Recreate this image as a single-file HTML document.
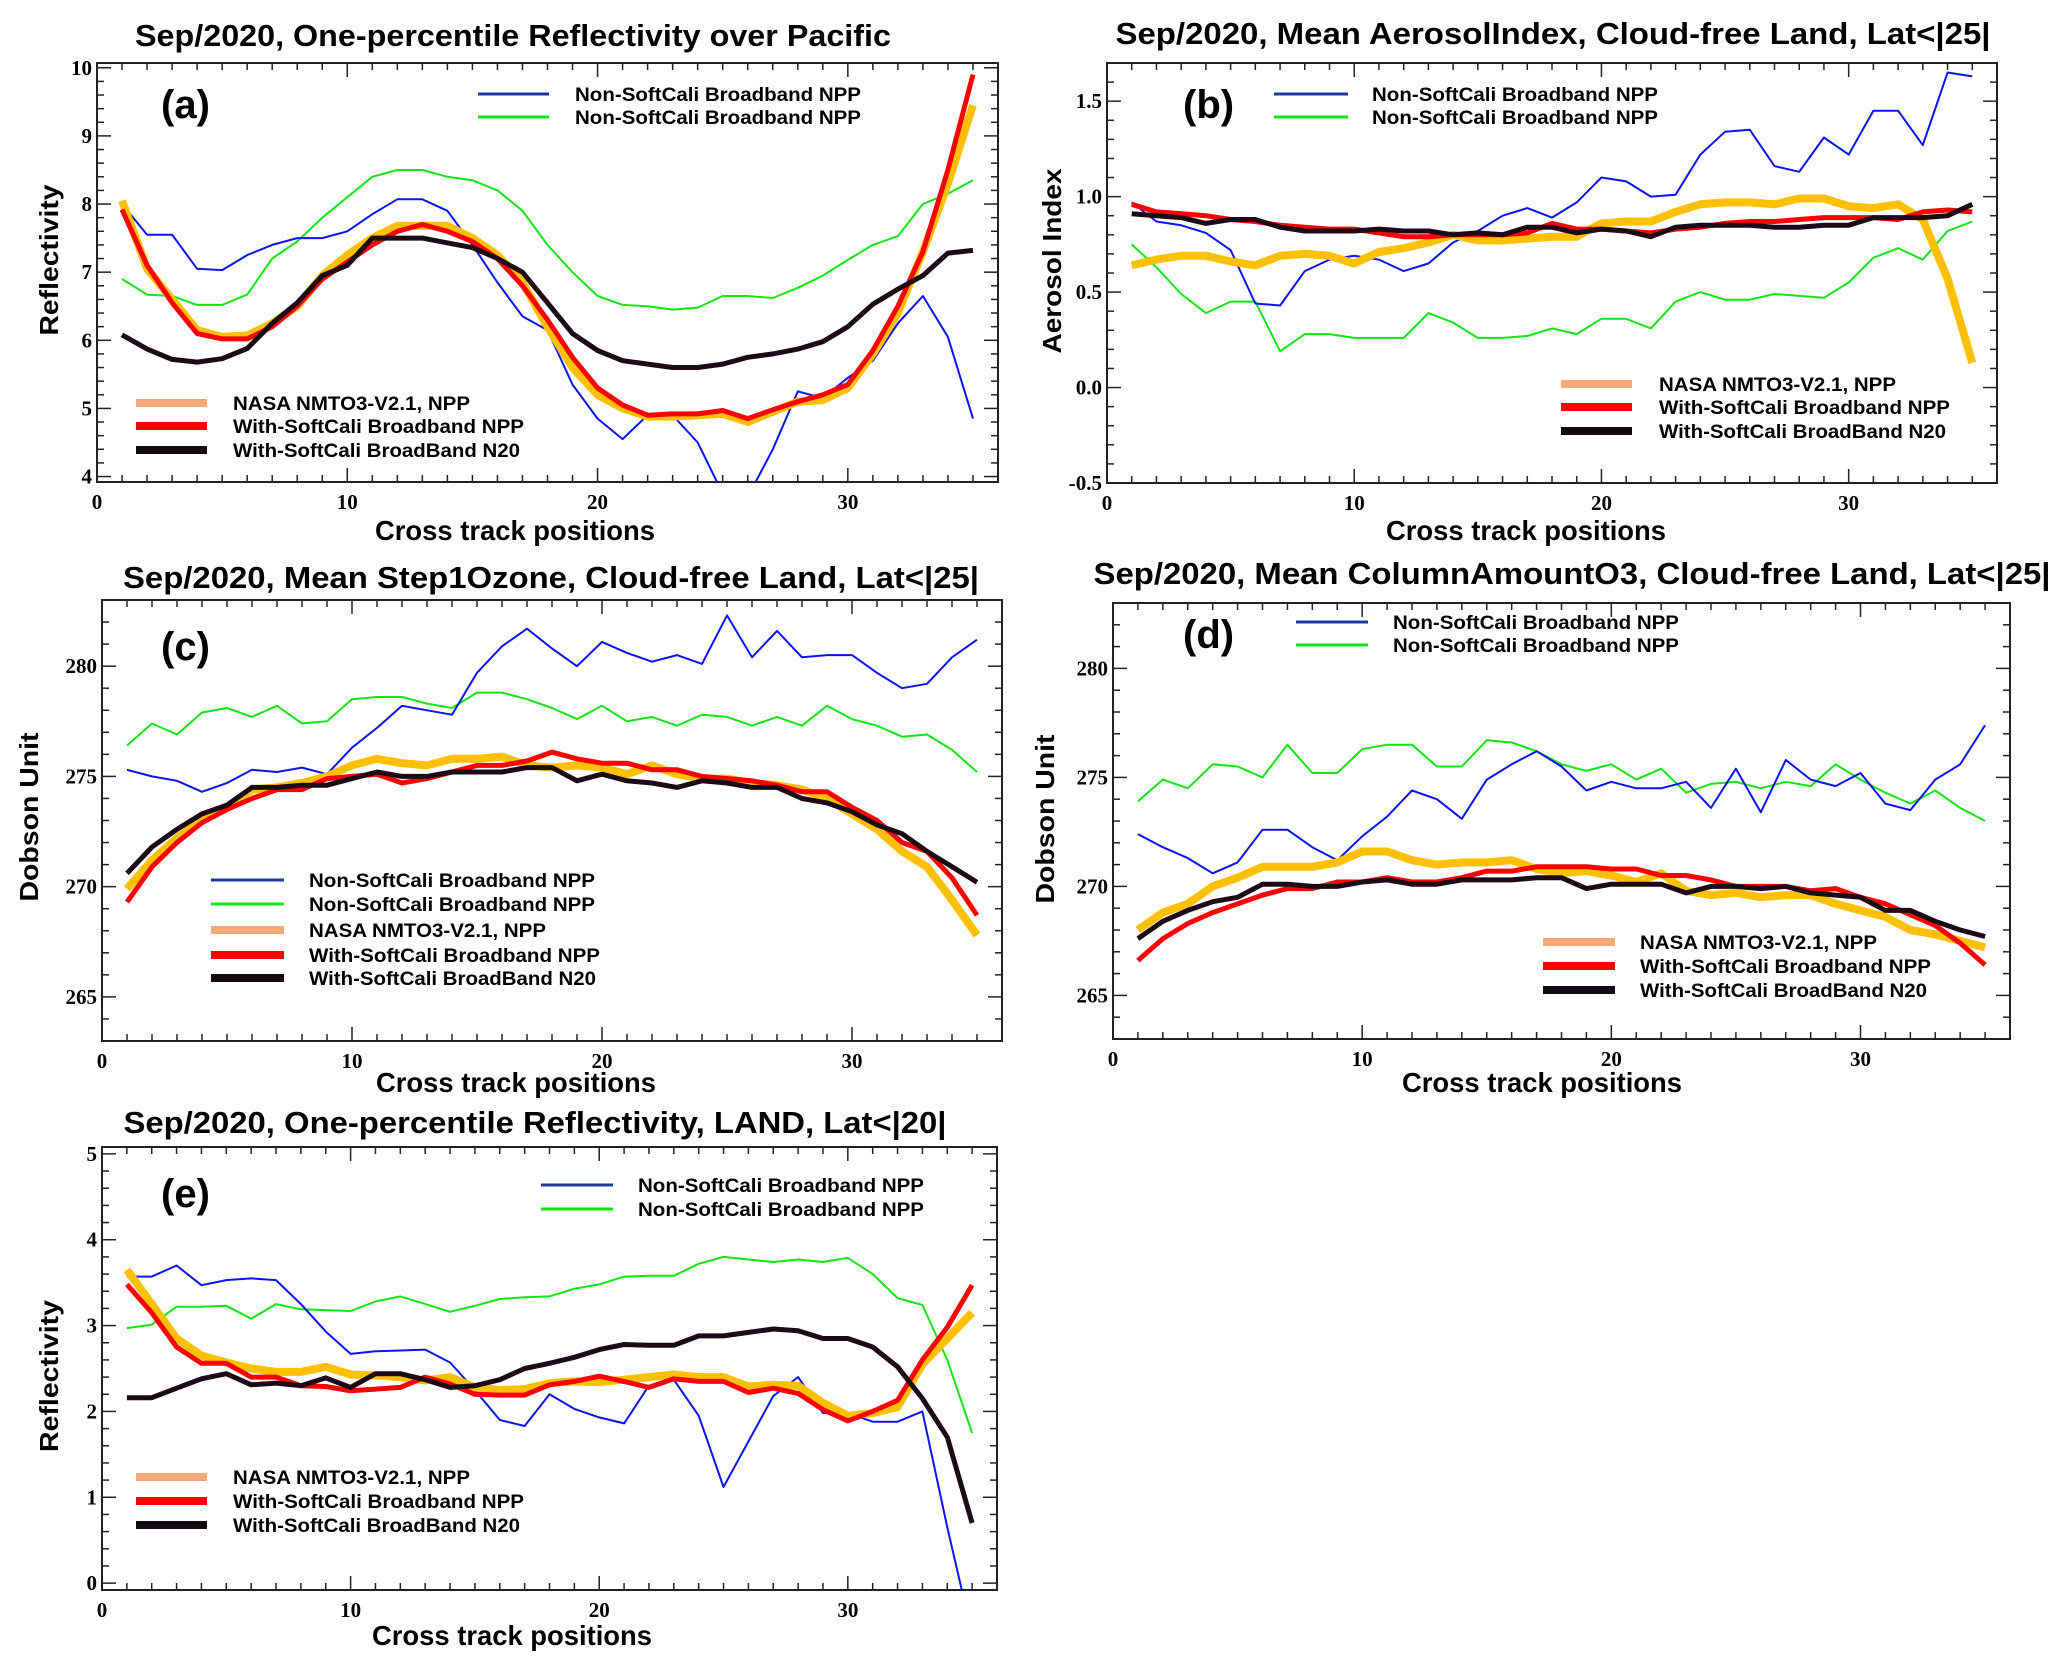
<!DOCTYPE html>
<html><head><meta charset="utf-8"><style>
html,body{margin:0;padding:0;background:#fff;}
svg{display:block;}
</style></head><body>
<svg id="fig" xmlns="http://www.w3.org/2000/svg" width="2067" height="1667" viewBox="0 0 2067 1667">
<rect x="0" y="0" width="2067" height="1667" fill="#fff"/>
</svg>
<script>
const xPos=[1,2,3,4,5,6,7,8,9,10,11,12,13,14,15,16,17,18,19,20,21,22,23,24,25,26,27,28,29,30,31,32,33,34,35];

const aBlue=[8.0,7.55,7.55,7.05,7.03,7.25,7.4,7.5,7.5,7.6,7.85,8.07,8.07,7.9,7.4,6.85,6.35,6.15,5.35,4.85,4.55,4.9,4.9,4.5,3.75,3.7,4.4,5.25,5.15,5.45,5.7,6.25,6.65,6.05,4.85];
const aGreen=[6.9,6.67,6.65,6.52,6.52,6.67,7.2,7.45,7.8,8.1,8.4,8.5,8.5,8.4,8.35,8.2,7.9,7.4,7.0,6.65,6.52,6.5,6.45,6.48,6.65,6.65,6.62,6.77,6.95,7.18,7.4,7.53,8.0,8.15,8.35];
const aNasa=[8.05,7.05,6.6,6.15,6.05,6.07,6.25,6.5,6.95,7.25,7.5,7.68,7.68,7.68,7.5,7.25,6.85,6.2,5.6,5.2,5.0,4.88,4.88,4.9,4.92,4.8,4.95,5.1,5.12,5.3,5.8,6.4,7.3,8.3,9.45];
const aRed=[7.92,7.1,6.55,6.1,6.02,6.02,6.2,6.5,6.9,7.15,7.4,7.6,7.7,7.6,7.45,7.2,6.8,6.3,5.75,5.3,5.05,4.9,4.92,4.92,4.97,4.85,4.98,5.1,5.2,5.35,5.85,6.5,7.3,8.5,9.9];
const aBlack=[6.08,5.87,5.72,5.68,5.73,5.88,6.25,6.55,6.95,7.1,7.5,7.5,7.5,7.43,7.36,7.2,7.0,6.55,6.1,5.85,5.7,5.65,5.6,5.6,5.65,5.75,5.8,5.87,5.98,6.2,6.53,6.75,6.95,7.28,7.32];

const bBlue=[0.97,0.87,0.85,0.81,0.72,0.44,0.43,0.61,0.67,0.69,0.67,0.61,0.65,0.76,0.82,0.90,0.94,0.89,0.97,1.10,1.08,1.00,1.01,1.22,1.34,1.35,1.16,1.13,1.31,1.22,1.45,1.45,1.27,1.65,1.63];
const bGreen=[0.75,0.63,0.49,0.39,0.45,0.45,0.19,0.28,0.28,0.26,0.26,0.26,0.39,0.34,0.26,0.26,0.27,0.31,0.28,0.36,0.36,0.31,0.45,0.50,0.46,0.46,0.49,0.48,0.47,0.55,0.68,0.73,0.67,0.82,0.87];
const bNasa=[0.64,0.67,0.69,0.69,0.66,0.64,0.69,0.70,0.69,0.65,0.71,0.73,0.76,0.80,0.77,0.77,0.78,0.79,0.79,0.86,0.87,0.87,0.92,0.96,0.97,0.97,0.96,0.99,0.99,0.95,0.94,0.96,0.88,0.57,0.13];
const bRed=[0.96,0.92,0.91,0.90,0.88,0.87,0.85,0.84,0.83,0.83,0.81,0.79,0.79,0.80,0.80,0.80,0.81,0.86,0.83,0.83,0.82,0.81,0.83,0.84,0.86,0.87,0.87,0.88,0.89,0.89,0.89,0.88,0.92,0.93,0.92];
const bBlack=[0.91,0.90,0.89,0.86,0.88,0.88,0.84,0.82,0.82,0.82,0.83,0.82,0.82,0.80,0.81,0.80,0.84,0.84,0.81,0.83,0.82,0.79,0.84,0.85,0.85,0.85,0.84,0.84,0.85,0.85,0.89,0.89,0.89,0.90,0.96];

const cBlue=[275.3,275.0,274.8,274.3,274.7,275.3,275.2,275.4,275.1,276.3,277.2,278.2,278.0,277.8,279.7,280.9,281.7,280.8,280.0,281.1,280.6,280.2,280.5,280.1,282.3,280.4,281.6,280.4,280.5,280.5,279.7,279.0,279.2,280.4,281.2];
const cGreen=[276.4,277.4,276.9,277.9,278.1,277.7,278.2,277.4,277.5,278.5,278.6,278.6,278.3,278.1,278.8,278.8,278.5,278.1,277.6,278.2,277.5,277.7,277.3,277.8,277.7,277.3,277.7,277.3,278.2,277.6,277.3,276.8,276.9,276.2,275.2];
const cNasa=[269.9,271.2,272.2,273.1,273.6,274.4,274.5,274.7,275.0,275.5,275.8,275.6,275.5,275.8,275.8,275.9,275.5,275.4,275.5,275.4,275.1,275.5,275.1,274.9,274.9,274.7,274.6,274.4,274.0,273.3,272.6,271.6,270.9,269.4,267.8];
const cRed=[269.3,270.9,272.0,272.9,273.5,274.0,274.4,274.4,274.9,275.0,275.1,274.7,274.9,275.2,275.5,275.5,275.7,276.1,275.8,275.6,275.6,275.3,275.3,275.0,274.9,274.8,274.6,274.3,274.3,273.6,273.0,272.0,271.6,270.4,268.7];
const cBlack=[270.6,271.8,272.6,273.3,273.7,274.5,274.5,274.6,274.6,274.9,275.2,275.0,275.0,275.2,275.2,275.2,275.4,275.4,274.8,275.1,274.8,274.7,274.5,274.8,274.7,274.5,274.5,274.0,273.8,273.4,272.8,272.4,271.6,270.9,270.2];

const dBlue=[272.4,271.8,271.3,270.6,271.1,272.6,272.6,271.8,271.2,272.3,273.2,274.4,274.0,273.1,274.9,275.6,276.2,275.5,274.4,274.8,274.5,274.5,274.8,273.6,275.4,273.4,275.8,274.9,274.6,275.2,273.8,273.5,274.9,275.6,277.4];
const dGreen=[273.9,274.9,274.5,275.6,275.5,275.0,276.5,275.2,275.2,276.3,276.5,276.5,275.5,275.5,276.7,276.6,276.2,275.6,275.3,275.6,274.9,275.4,274.3,274.7,274.8,274.5,274.8,274.6,275.6,274.9,274.3,273.8,274.4,273.6,273.0];
const dNasa=[268.0,268.8,269.2,270.0,270.4,270.9,270.9,270.9,271.1,271.6,271.6,271.2,271.0,271.1,271.1,271.2,270.8,270.6,270.7,270.5,270.2,270.6,269.8,269.6,269.7,269.5,269.6,269.6,269.2,268.9,268.6,268.0,267.8,267.5,267.2];
const dRed=[266.6,267.6,268.3,268.8,269.2,269.6,269.9,269.9,270.2,270.2,270.4,270.2,270.2,270.4,270.7,270.7,270.9,270.9,270.9,270.8,270.8,270.5,270.5,270.3,270.0,270.0,270.0,269.8,269.9,269.5,269.2,268.7,268.2,267.4,266.4];
const dBlack=[267.6,268.4,268.9,269.3,269.5,270.1,270.1,270.0,270.0,270.2,270.3,270.1,270.1,270.3,270.3,270.3,270.4,270.4,269.9,270.1,270.1,270.1,269.7,270.0,270.0,269.9,270.0,269.7,269.6,269.5,268.9,268.9,268.4,268.0,267.7];

const eBlue=[3.57,3.57,3.7,3.47,3.53,3.55,3.53,3.25,2.93,2.67,2.7,2.71,2.72,2.57,2.25,1.9,1.83,2.2,2.03,1.93,1.86,2.3,2.37,1.95,1.12,1.65,2.18,2.4,1.98,1.98,1.88,1.88,2.0,0.65,-0.6];
const eGreen=[2.97,3.01,3.22,3.22,3.23,3.08,3.25,3.19,3.18,3.17,3.28,3.34,3.25,3.16,3.23,3.31,3.33,3.34,3.43,3.48,3.57,3.58,3.58,3.72,3.8,3.77,3.74,3.77,3.74,3.79,3.6,3.32,3.24,2.6,1.75];
const eNasa=[3.65,3.25,2.85,2.65,2.57,2.5,2.46,2.46,2.52,2.43,2.42,2.4,2.36,2.4,2.28,2.25,2.26,2.33,2.35,2.34,2.37,2.4,2.43,2.4,2.4,2.29,2.31,2.3,2.1,1.95,1.98,2.05,2.55,2.85,3.15];
const eRed=[3.48,3.15,2.75,2.56,2.56,2.4,2.4,2.3,2.29,2.24,2.26,2.28,2.4,2.32,2.2,2.19,2.19,2.31,2.35,2.41,2.35,2.28,2.38,2.35,2.35,2.22,2.27,2.21,2.02,1.89,2.0,2.13,2.6,2.98,3.47];
const eBlack=[2.16,2.16,2.27,2.38,2.44,2.31,2.33,2.3,2.39,2.28,2.44,2.44,2.37,2.28,2.3,2.37,2.5,2.56,2.63,2.72,2.78,2.77,2.77,2.88,2.88,2.92,2.96,2.94,2.85,2.85,2.75,2.52,2.15,1.7,0.7];

const xTicks=[0,10,20,30];
const aYTicks=[4,5,6,7,8,9,10];
const bYTicks=[-0.5,0.0,0.5,1.0,1.5];
const bYTickLabels=["-0.5","0.0","0.5","1.0","1.5"];
const cYTicks=[265,270,275,280];
const eYTicks=[0,1,2,3,4,5];

const NS="http://www.w3.org/2000/svg";
const svg=document.getElementById('fig');
function mk(tag,attrs,parent){const e=document.createElementNS(NS,tag);for(const k in attrs)e.setAttribute(k,attrs[k]);(parent||svg).appendChild(e);return e;}

const COL={blue:'#0a14f0',green:'#12e612',nasa:'#ffc000',red:'#ff0000',black:'#1c0a16'};
const WID={blue:2,green:2,nasa:8,red:5,black:5};

const panels=[
 {id:'a',L:97,R:998,T:63,B:482,ymin:3.92,ymax:10.07,xmax:36,majors:aYTicks,labels:aYTicks.map(String),minor:0.2,
  title:'Sep/2020, One-percentile Reflectivity over Pacific',tx:513,ty:46,tlen:756,
  ylab:'Reflectivity',ylx:58,yly:260,yllen:151,xlx:515,xly:540,
  tag:'(a)',tagx:161,tagy:118,
  series:{blue:aBlue,green:aGreen,nasa:aNasa,red:aRed,black:aBlack},
  leg1:{lx1:478,lx2:549,tx:575,ys:[94,117]},leg2:{lx1:136,lx2:207,tx:233,ys:[403,426,450],lens:[237,291,287]}},
 {id:'b',L:1107,R:1997,T:63,B:483,ymin:-0.5,ymax:1.70,xmax:36,majors:bYTicks,labels:bYTickLabels,minor:0.1,
  title:'Sep/2020, Mean AerosolIndex, Cloud-free Land, Lat<|25|',tx:1553,ty:44,tlen:875,
  ylab:'Aerosol Index',ylx:1061,yly:261,yllen:185,xlx:1526,xly:540,
  tag:'(b)',tagx:1183,tagy:118,
  series:{blue:bBlue,green:bGreen,nasa:bNasa,red:bRed,black:bBlack},
  leg1:{lx1:1274,lx2:1348,tx:1372,ys:[94,117]},leg2:{lx1:1561,lx2:1632,tx:1659,ys:[384,407,431],lens:[237,291,287]}},
 {id:'c',L:102,R:1002,T:600,B:1041,ymin:263,ymax:283,xmax:36,majors:cYTicks,labels:cYTicks.map(String),minor:1,
  title:'Sep/2020, Mean Step1Ozone, Cloud-free Land, Lat<|25|',tx:551,ty:588,tlen:856,
  ylab:'Dobson Unit',ylx:38,yly:817,yllen:169,xlx:516,xly:1092,
  tag:'(c)',tagx:161,tagy:660,
  series:{blue:cBlue,green:cGreen,nasa:cNasa,red:cRed,black:cBlack},
  legAll:{lx1:211,lx2:284,tx:309,ys:[880,904,930,955,978],lens:[286,286,237,291,287]}},
 {id:'d',L:1113,R:2010,T:603,B:1039,ymin:263,ymax:283,xmax:36,majors:cYTicks,labels:cYTicks.map(String),minor:1,
  title:'Sep/2020, Mean ColumnAmountO3, Cloud-free Land, Lat<|25|',tx:1572,ty:584,tlen:957,
  ylab:'Dobson Unit',ylx:1054,yly:819,yllen:169,xlx:1542,xly:1092,
  tag:'(d)',tagx:1183,tagy:648,
  series:{blue:dBlue,green:dGreen,nasa:dNasa,red:dRed,black:dBlack},
  leg1:{lx1:1296,lx2:1368,tx:1393,ys:[622,645]},leg2:{lx1:1543,lx2:1615,tx:1640,ys:[942,966,990],lens:[237,291,287]}},
 {id:'e',L:102,R:997,T:1147,B:1590,ymin:-0.08,ymax:5.08,xmax:36,majors:eYTicks,labels:eYTicks.map(String),minor:0.2,
  title:'Sep/2020, One-percentile Reflectivity, LAND, Lat<|20|',tx:535,ty:1133,tlen:823,
  ylab:'Reflectivity',ylx:58,yly:1376,yllen:152,xlx:512,xly:1645,
  tag:'(e)',tagx:161,tagy:1207,
  series:{blue:eBlue,green:eGreen,nasa:eNasa,red:eRed,black:eBlack},
  leg1:{lx1:541,lx2:613,tx:638,ys:[1185,1209]},leg2:{lx1:136,lx2:207,tx:233,ys:[1477,1501,1525],lens:[237,291,287]}}
];

const upperNames=['Non-SoftCali Broadband NPP','Non-SoftCali Broadband NPP'];
const lowerNames=['NASA NMTO3-V2.1, NPP','With-SoftCali Broadband NPP','With-SoftCali BroadBand N20'];
const legCols={blue:'#1c3a9c',green:'#12e612',nasa:'#f6a878',red:'#ff0000',black:'#140a12'};
const legW={blue:3,green:3,nasa:8,red:8,black:8};

panels.forEach(p=>{
  const g=mk('g',{});
  
  
  const X=v=>p.L+(v-0)/(p.xmax-0)*(p.R-p.L);
  const Y=v=>p.B-(v-p.ymin)/(p.ymax-p.ymin)*(p.B-p.T);
  const cp=mk('clipPath',{id:'clip-'+p.id},g);
  mk('rect',{x:p.L,y:p.T,width:p.R-p.L,height:p.B-p.T},cp);
  const t=mk('text',{x:p.tx,y:p.ty,'text-anchor':'middle','font-family':'"Liberation Sans",sans-serif','font-weight':'bold','font-size':31,textLength:p.tlen,lengthAdjust:'spacingAndGlyphs',fill:'#000'},g);
  t.textContent=p.title;
  
  
  const tk=mk('g',{stroke:'#222','stroke-width':1.5},g);
  
  
  for(let v=1;v<p.xmax;v++){
    const len=(v%10===0)?14:7;
    mk('line',{x1:X(v),x2:X(v),y1:p.B,y2:p.B-len},tk);
    mk('line',{x1:X(v),x2:X(v),y1:p.T,y2:p.T+len},tk);
  }
  const nMin=Math.round((p.ymax-p.ymin)/p.minor)+2;
  const start=Math.ceil(p.ymin/p.minor)*p.minor;
  for(let i=0;i<nMin;i++){
    const v=start+i*p.minor; if(v>p.ymax) break;
    const isMaj=p.majors.some(m=>Math.abs(m-v)<1e-6);
    const len=isMaj?14:7;
    mk('line',{x1:p.L,x2:p.L+len,y1:Y(v),y2:Y(v)},tk);
    mk('line',{x1:p.R,x2:p.R-len,y1:Y(v),y2:Y(v)},tk);
  }
  const fr=mk('rect',{x:p.L,y:p.T,width:p.R-p.L,height:p.B-p.T,fill:'none',stroke:'#222','stroke-width':2},g);
  
  
  xTicks.forEach(v=>{
    const tl=mk('text',{x:X(v),y:p.B+27,'text-anchor':'middle','font-family':'"Liberation Serif",serif','font-weight':'bold','font-size':21,fill:'#000'},g);
    tl.textContent=String(v);
    
    
  });
  p.majors.forEach((v,i)=>{
    const tl=mk('text',{x:p.L-5,y:Y(v)+7,'text-anchor':'end','font-family':'"Liberation Serif",serif','font-weight':'bold','font-size':21,fill:'#000'},g);
    tl.textContent=p.labels[i];
    
    
  });
  const xl=mk('text',{x:p.xlx,y:p.xly,'text-anchor':'middle','font-family':'"Liberation Sans",sans-serif','font-weight':'bold','font-size':28,textLength:280,lengthAdjust:'spacingAndGlyphs',fill:'#000'},g);
  xl.textContent='Cross track positions';
  
  
  const yl=mk('text',{x:0,y:0,'text-anchor':'middle','font-family':'"Liberation Sans",sans-serif','font-weight':'bold','font-size':26,textLength:p.yllen,lengthAdjust:'spacingAndGlyphs',fill:'#000',transform:`translate(${p.ylx},${p.yly}) rotate(-90)`},g);
  yl.textContent=p.ylab;
  
  
  const sg=mk('g',{'clip-path':`url(#clip-${p.id})`},g);
  ['green','blue','nasa','red','black'].forEach(k=>{
    const vals=p.series[k];
    const d=vals.map((v,i)=>(i?'L':'M')+X(xPos[i]).toFixed(1)+','+Y(v).toFixed(1)).join(' ');
    const pl=mk('path',{d:d,fill:'none',stroke:COL[k],'stroke-width':WID[k],'stroke-linejoin':'round'},sg);
    
    
  });
  const tg=mk('text',{x:p.tagx,y:p.tagy,'font-family':'"Liberation Sans",sans-serif','font-weight':'bold','font-size':40,fill:'#000'},g);
  tg.textContent=p.tag;
  
  
  function entry(lx1,lx2,tx,y,key,name,len){
    const eg=mk('g',{},g);
    
    
    mk('line',{x1:lx1,x2:lx2,y1:y,y2:y,stroke:legCols[key],'stroke-width':legW[key]},eg);
    const tt=mk('text',{x:tx,y:y+7,'font-family':'"Liberation Sans",sans-serif','font-weight':'bold','font-size':19,textLength:len,lengthAdjust:'spacingAndGlyphs',fill:'#000'},eg);
    tt.textContent=name;
  }
  const upKeys=['blue','green'], loKeys=['nasa','red','black'];
  if(p.leg1){p.leg1.ys.forEach((y,i)=>entry(p.leg1.lx1,p.leg1.lx2,p.leg1.tx,y,upKeys[i],upperNames[i],286));}
  if(p.leg2){p.leg2.ys.forEach((y,i)=>entry(p.leg2.lx1,p.leg2.lx2,p.leg2.tx,y,loKeys[i],lowerNames[i],p.leg2.lens[i]));}
  if(p.legAll){const ks=upKeys.concat(loKeys),ns=upperNames.concat(lowerNames);
    p.legAll.ys.forEach((y,i)=>entry(p.legAll.lx1,p.legAll.lx2,p.legAll.tx,y,ks[i],ns[i],p.legAll.lens[i]));}
});
</script>
</body></html>
